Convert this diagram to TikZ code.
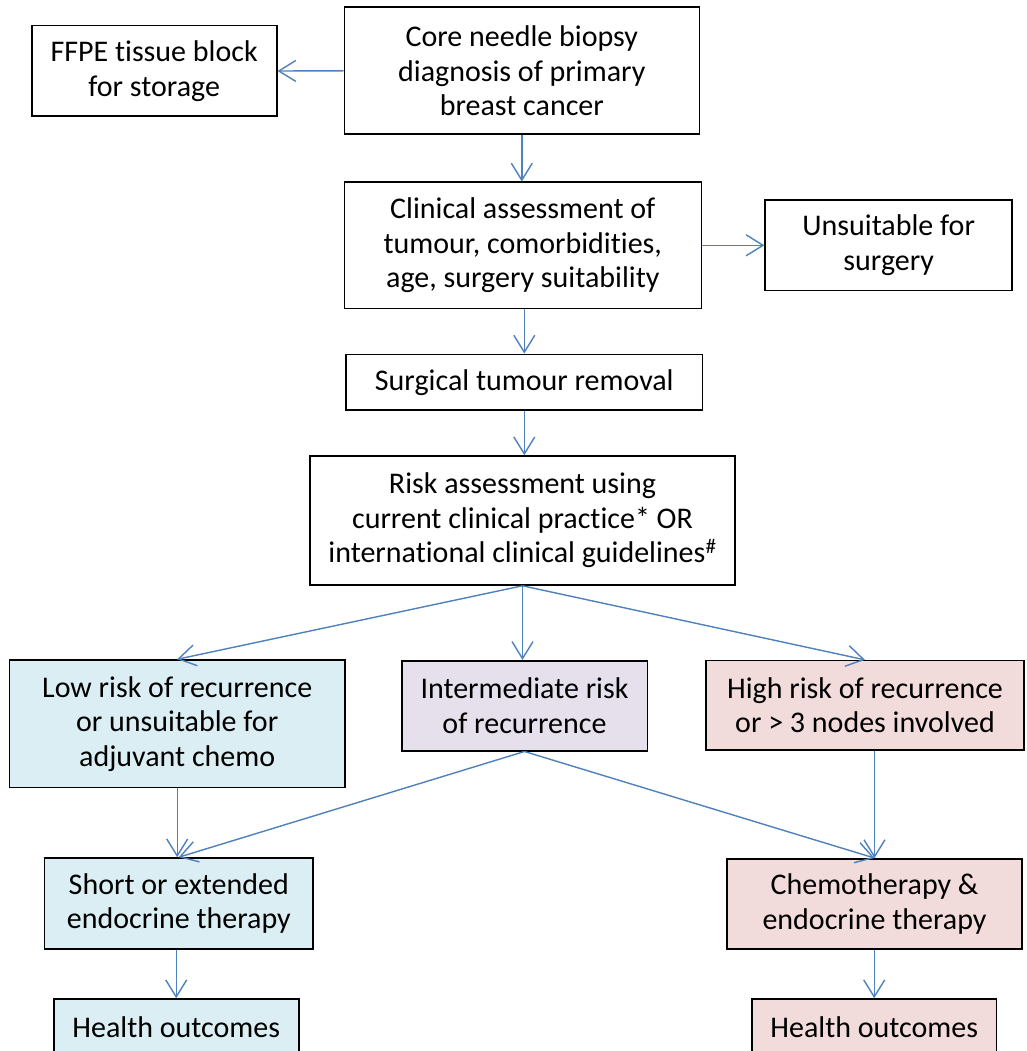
\documentclass[tikz,border=0pt]{standalone}
\usepackage{fontspec}
\setmainfont{Carlito}[Ligatures=NoCommon]
\usetikzlibrary{arrows.meta}
\definecolor{arr}{HTML}{4F81BD}
\definecolor{lowfill}{HTML}{DAEEF3}
\definecolor{midfill}{HTML}{E5E0EC}
\definecolor{highfill}{HTML}{F2DCDB}
\begin{document}
\begin{tikzpicture}[x=1pt,y=-1pt,
  box/.style={draw=black, line width=1.6pt, align=center, inner sep=0pt,
    font=\fontsize{30}{34.5}\selectfont, text=black},
  conn/.style={draw=arr, line width=1.4pt,
    -{Straight Barb[length=17pt,width=21pt,line width=1.4pt]}}]
\useasboundingbox (0,0) rectangle (1026,1051);
\clip (0,0) rectangle (1026,1051);
\fill[white] (0,0) rectangle (1026,1051);

\node[box, minimum width=245pt, minimum height=90.6pt] (ffpe) at (154.2,71) {FFPE tissue block\\for storage};
\node[box, minimum width=355pt, minimum height=127pt] (core) at (521.8,70.8) {Core needle biopsy\\diagnosis of primary\\breast cancer};
\node[box, minimum width=357pt, minimum height=126pt] (clin) at (522.8,245.3) {Clinical assessment of\\tumour, comorbidities,\\age, surgery suitability};
\node[box, minimum width=247pt, minimum height=90.7pt] (unsuit) at (888.7,245.3) {Unsuitable for\\surgery};
\node[box, minimum width=356.7pt, minimum height=55.7pt] (surg) at (524.3,382.2) {Surgical tumour removal};
\node[box, minimum width=425pt, minimum height=129pt] (risk) at (522.5,520.5) {Risk assessment using\\current clinical practice* OR\\international clinical guidelines\textsuperscript{\#}};
\node[box, fill=lowfill, minimum width=335.7pt, minimum height=127.3pt] (low) at (177.2,723.7) {Low risk of recurrence\\or unsuitable for\\adjuvant chemo};
\node[box, fill=midfill, minimum width=245.6pt, minimum height=90pt] (inter) at (524.5,705.7) {Intermediate risk\\of recurrence};
\node[box, fill=highfill, minimum width=318pt, minimum height=89.3pt] (high) at (865,705.3) {High risk of recurrence\\or > 3 nodes involved};
\node[box, fill=lowfill, minimum width=268.4pt, minimum height=91pt] (short) at (178.8,903.5) {Short or extended\\endocrine therapy};
\node[box, fill=highfill, minimum width=295pt, minimum height=90.3pt] (chemo) at (874.5,904) {Chemotherapy \&\\endocrine therapy};
\node[box, fill=lowfill, minimum width=245pt, minimum height=57pt] (h1) at (176.2,1027.5) {Health outcomes};
\node[box, fill=highfill, minimum width=244.5pt, minimum height=57pt] (h2) at (874.2,1027.5) {Health outcomes};

\draw[conn] (core.west) -- (ffpe.east);
\draw[conn] (core.south) -- (core.south |- clin.north);
\draw[conn] (clin.east) -- (clin.east -| unsuit.west);
\draw[conn] (surg.north |- clin.south) -- (surg.north);
\draw[conn] (surg.south) -- (surg.south |- risk.north);
\draw[conn] (risk.south) -- (low.north);
\draw[conn] (risk.south) -- (risk.south |- inter.north);
\draw[conn] (risk.south) -- (high.north);
\draw[conn] (low.south) -- (low.south |- short.north);
\draw[conn] (inter.south) -- (short.north);
\draw[conn] (inter.south) -- (chemo.north);
\draw[conn] (chemo.north |- high.south) -- (chemo.north);
\draw[conn] (h1.north |- short.south) -- (h1.north);
\draw[conn] (h2.north |- chemo.south) -- (h2.north);
\end{tikzpicture}
\end{document}
